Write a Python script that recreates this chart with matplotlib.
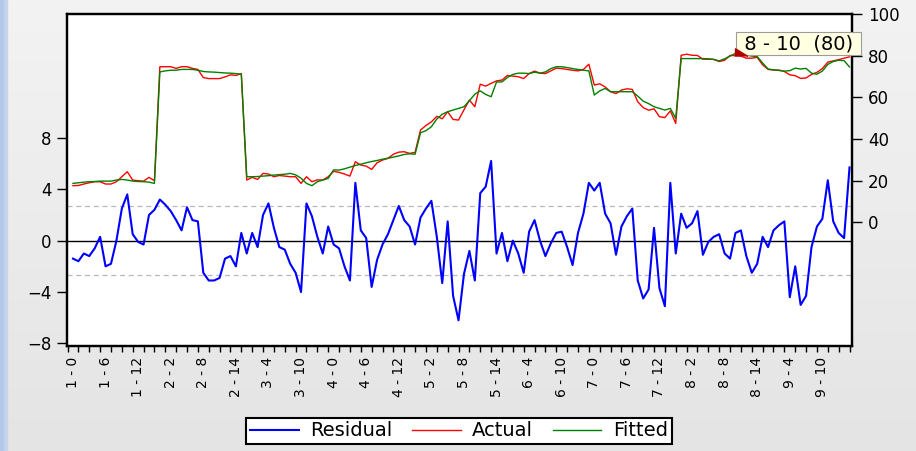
import numpy as np
import matplotlib.pyplot as plt
from matplotlib.colors import LinearSegmentedColormap
from matplotlib.patches import Rectangle

# residual (left axis), actual / fitted (right axis), 9 groups x 16 periods
residual = [
    -1.4, -1.6, -1.0, -1.2, -0.6, 0.3, -2.0, -1.8, 0.0, 2.5, 3.6, 0.5,
    -0.1, -0.3, 2.0, 2.4, 3.2, 2.8, 2.3, 1.6, 0.8, 2.6, 1.6, 1.5,
    -2.5, -3.1, -3.1, -2.9, -1.4, -1.2, -2.0, 0.6, -1.0, 0.6, -0.5, 2.0,
    2.9, 1.0, -0.5, -0.7, -1.8, -2.5, -4.0, 2.9, 1.9, 0.3, -1.0, 1.1,
    -0.3, -0.6, -2.0, -3.1, 4.5, 0.8, 0.2, -3.6, -1.5, -0.3, 0.5, 1.6,
    2.7, 1.6, 1.1, -0.3, 1.8, 2.5, 3.1, 0.3, -3.3, 1.5, -4.3, -6.2, -2.6, -0.8,
    -3.1, 3.7, 4.2, 6.2, -1.0, 0.6, -1.6, 0.0, -1.0, -2.5, 0.7, 1.6,
    0.0, -1.2, -0.2, 0.6, 0.7, -0.5, -1.9, 0.6, 2.1, 4.5, 3.9, 4.5, 2.1,
    1.35, -1.1, 1.1, 1.9, 2.5, -3.1, -4.5, -3.8, 1.0, -3.7, -5.1, 4.5,
    -1.0, 2.1, 1.0, 1.35, 2.3, -1.1, -0.1, 0.3, 0.5, -1.0, -1.4, 0.6,
    0.8, -1.2, -2.5, -1.8, 0.3, -0.5, 0.8, 1.2, 1.5, -4.4, -2.0, -5.0,
    -4.3, -0.5, 1.1, 1.7, 4.7, 1.5, 0.6, 0.2, 5.7,
]
actual = [
    17.6, 17.7, 18.4, 19.0, 19.5, 19.5, 18.4, 18.4, 19.5, 21.9, 24.3, 20.3,
    20.0, 19.8, 21.6, 20.0, 74.7, 74.7, 74.7, 73.9, 74.7, 74.7, 73.9, 73.4,
    69.5, 69.0, 69.0, 69.0, 69.8, 70.8, 70.5, 71.4, 20.3, 21.6, 20.6, 23.5,
    23.2, 21.9, 22.5, 22.2, 21.9, 21.9, 18.7, 21.9, 19.5, 20.4, 20.3, 21.9,
    24.5, 24.0, 23.2, 22.2, 29.1, 27.5, 27.0, 25.4, 28.6, 29.9, 30.7, 32.7,
    33.7, 33.9, 33.1, 33.6, 44.3, 46.5, 48.2, 50.9, 49.7, 53.1, 49.4, 49.1, 54.0, 58.7,
    55.5, 66.3, 65.4, 66.7, 67.9, 68.3, 70.5, 70.2, 69.9, 69.0, 71.4, 72.6,
    71.6, 71.4, 72.7, 74.0, 73.8, 73.4, 73.0, 72.7, 73.4, 75.9, 65.9, 66.5, 65.0,
    62.7, 61.8, 63.5, 64.1, 63.8, 57.9, 55.1, 53.8, 54.5, 50.7, 50.3, 53.5,
    47.5, 80.2, 80.7, 80.2, 80.1, 78.3, 78.3, 78.2, 77.2, 77.8, 80.1, 80.0,
    79.8, 78.8, 78.8, 79.2, 75.6, 73.4, 73.1, 73.1, 72.4, 70.8, 70.4, 69.1,
    69.3, 71.0, 72.0, 73.8, 76.9, 77.5, 78.1, 78.8, 79.4,
]
fitted = [
    18.7, 19.0, 19.3, 19.5, 19.6, 19.8, 19.8, 19.8, 20.3, 20.6, 20.3, 19.8,
    19.6, 19.5, 19.3, 18.7, 72.2, 72.7, 73.0, 73.0, 73.4, 73.4, 73.4, 73.0,
    72.4, 72.2, 72.1, 71.9, 71.7, 71.6, 71.4, 71.1, 21.9, 21.9, 22.0, 22.2,
    22.4, 22.7, 22.9, 23.1, 23.5, 22.8, 21.2, 18.7, 17.6, 19.5, 20.3, 21.1,
    25.2, 25.1, 25.7, 26.5, 27.3, 27.9, 28.6, 29.2, 29.7, 30.3, 30.8, 31.3,
    31.9, 32.6, 32.9, 32.7, 43.0, 44.0, 45.9, 49.6, 51.9, 53.1, 53.9, 54.7, 55.5, 58.4,
    61.5, 63.1, 61.4, 60.3, 67.4, 67.4, 69.5, 71.0, 71.6, 71.6, 71.4, 72.1,
    71.6, 72.2, 73.8, 74.7, 74.7, 74.3, 73.8, 73.4, 73.0, 72.7, 61.1, 63.1, 64.3,
    62.7, 62.7, 62.7, 62.7, 62.7, 60.6, 58.2, 57.0, 55.5, 54.7, 53.9, 54.7,
    49.9, 78.6, 78.6, 78.6, 78.6, 78.6, 78.5, 78.2, 77.5, 78.5, 79.8, 81.1,
    80.5, 80.3, 79.8, 79.6, 76.5, 73.6, 73.2, 72.9, 72.6, 72.8, 74.0, 73.6,
    73.9, 71.6, 71.1, 72.6, 75.8, 77.2, 77.8, 77.6, 74.6,
]
tick_labels = ["1 - 0", "1 - 6", "1 - 12", "2 - 2", "2 - 8", "2 - 14",
               "3 - 4", "3 - 10", "4 - 0", "4 - 6", "4 - 12", "5 - 2",
               "5 - 8", "5 - 14", "6 - 4", "6 - 10", "7 - 0", "7 - 6",
               "7 - 12", "8 - 2", "8 - 8", "8 - 14", "9 - 4", "9 - 10"]
resid_se = 2.7
tip_obs = 122
tip_text = "8 - 10  (80)"

obs = np.arange(len(residual))
W, H = 916, 451

fig = plt.figure(figsize=(W / 100, H / 100), dpi=100)

# window background
bg = fig.add_axes([0, 0, 1, 1], zorder=-10)
grad = np.linspace(0, 1, 256).reshape(-1, 1)
bg.imshow(grad, aspect="auto", extent=(0, 1, 0, 1),
          cmap=LinearSegmentedColormap.from_list("bg", ["#f3f3f3", "#e4e4e4"]))
bg.axis("off")
fig.patches.append(Rectangle((0, 0), 7 / W, 1, transform=fig.transFigure,
                             color="#c6d5ee", zorder=-5))
fig.patches.append(Rectangle((0, 0), 2.5 / W, 1, transform=fig.transFigure,
                             color="#b4c8e8", zorder=-4))

ax = fig.add_axes([67 / W, 1 - 345.5 / H, 785.5 / W, 331.5 / H])
ax.set_facecolor("white")
ax2 = ax.twinx()

ax.axhline(0, color="black", lw=1.0, zorder=2)
for s in (resid_se, -resid_se):
    ax.axhline(s, color="#b8b8b8", lw=0.9, ls=(0, (4, 3)), zorder=1)
l_res, = ax.plot(obs, residual, color="#0000ff", lw=1.5, zorder=3, label="Residual")
l_act, = ax2.plot(obs, actual, color="#ff0000", lw=1.0, label="Actual")
l_fit, = ax2.plot(obs, fitted, color="#008000", lw=1.0, label="Fitted")

ax.set_xlim(-1.1, 143.55)
ax.set_ylim(-8.16, 17.64)
ax2.set_ylim(-59.1, 100)

ax.set_yticks([-8, -4, 0, 4, 8])
ax2.set_yticks([0, 20, 40, 60, 80, 100])
ax.set_xticks(obs[::6], tick_labels, rotation=90)
ax.set_xticks(np.arange(-1, 144, 2), minor=True)

ax.tick_params(axis="x", which="major", length=0, pad=8, labelsize=10)
ax.tick_params(axis="x", which="minor", length=4.5, width=1.0, direction="out")
ax.tick_params(axis="y", length=7, width=1.0, pad=4, labelsize=12)
ax2.tick_params(axis="y", length=7, width=1.0, pad=4, labelsize=12)

for a in (ax, ax2):
    for sp in a.spines.values():
        sp.set_linewidth(1.6)

# hover tooltip
pad_px = 2.5
ax2.annotate(" " + tip_text + " ", xy=(tip_obs, actual[tip_obs]),
             xytext=(pad_px, pad_px), textcoords="offset pixels",
             ha="left", va="bottom", fontsize=14, zorder=20,
             annotation_clip=False,
             bbox=dict(boxstyle="square,pad=0.1", fc="#ffffe1", ec="#9c9c9c", lw=0.8))
ax2.plot(tip_obs, actual[tip_obs], marker=[(0, 0), (0, 8), (13, 0)], ms=18,
         color="#b00000", zorder=21, clip_on=False)

leg = fig.legend([l_res, l_act, l_fit], ["Residual", "Actual", "Fitted"],
                 loc="center", bbox_to_anchor=(459 / W, 1 - 431 / H), ncol=3,
                 fontsize=14, frameon=True, fancybox=False, edgecolor="black",
                 framealpha=1, handlelength=2.5, handletextpad=0.6,
                 columnspacing=1.0, borderpad=0.2)
leg.get_frame().set_linewidth(1.5)

fig.savefig("out.png", dpi=100)
